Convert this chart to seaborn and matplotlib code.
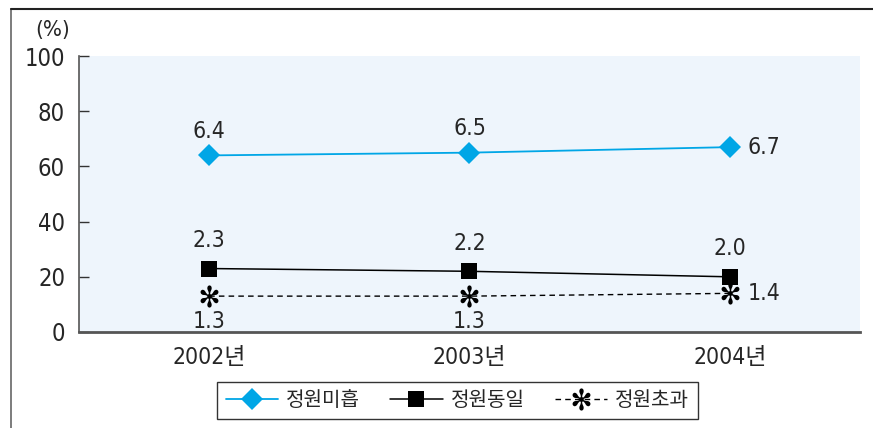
import pandas as pd
import seaborn as sns
import matplotlib.pyplot as plt

years = ["2002년", "2003년", "2004년"]
under = [64, 65, 67]      # 정원미흡
equal = [23, 22, 20]      # 정원동일
over = [13, 13, 14]       # 정원초과
under_labels = ["6.4", "6.5", "6.7"]
equal_labels = ["2.3", "2.2", "2.0"]
over_labels = ["1.3", "1.3", "1.4"]
y_ticks = [0, 20, 40, 60, 80, 100]

sns.set_theme(style="white")
plt.rcParams['font.family'] = ['DejaVu Sans', 'Noto Sans CJK KR']
plt.rcParams['font.stretch'] = 'condensed'

df = pd.DataFrame({"year": years, "x": range(len(years)),
                   "정원미흡": under, "정원동일": equal, "정원초과": over})

fig = plt.figure(figsize=(8.73, 4.28), dpi=100)
ax = fig.add_axes([0.0905, 0.2243, 0.8945, 0.6447])
ax.set_facecolor("#eef5fc")

blue = "#00a6e6"
sns.lineplot(data=df, x="x", y="정원미흡", ax=ax, color=blue, lw=1.3,
             marker="D", markersize=11, markeredgewidth=0, label="정원미흡")
sns.lineplot(data=df, x="x", y="정원동일", ax=ax, color="black", lw=1.1,
             marker="s", markersize=12, markeredgewidth=0, label="정원동일")
sns.lineplot(data=df, x="x", y="정원초과", ax=ax, color="black", lw=1.0,
             linestyle=(0, (4, 3)), marker="$✻$", markersize=16,
             markeredgewidth=0, label="정원초과")

fs = 16.5
for i, (v, t) in enumerate(zip(under, under_labels)):
    if i < 2:
        ax.annotate(t, (i, v), xytext=(0, 9), textcoords="offset points",
                    ha="center", va="bottom", fontsize=fs)
    else:
        ax.annotate(t, (i, v), xytext=(13, 0), textcoords="offset points",
                    ha="left", va="center", fontsize=fs)
for i, (v, t) in enumerate(zip(equal, equal_labels)):
    ax.annotate(t, (i, v), xytext=(0, 12), textcoords="offset points",
                ha="center", va="bottom", fontsize=fs)
for i, (v, t) in enumerate(zip(over, over_labels)):
    if i < 2:
        ax.annotate(t, (i, v), xytext=(0, -10), textcoords="offset points",
                    ha="center", va="top", fontsize=fs)
    else:
        ax.annotate(t, (i, v), xytext=(13, 0), textcoords="offset points",
                    ha="left", va="center", fontsize=fs)

ax.set_xlim(-0.5, 2.5)
ax.set_ylim(0, 100)
ax.set_xticks(range(len(years)))
ax.set_xticklabels(years)
ax.set_yticks(y_ticks)
ax.tick_params(axis="y", direction="in", length=7, width=1, color="#333333",
               left=True, labelsize=17, pad=10)
ax.tick_params(axis="x", length=0, labelsize=16.5, pad=10)
ax.set_xlabel("")
ax.set_ylabel("")
for s in ["top", "right"]:
    ax.spines[s].set_visible(False)
ax.spines["left"].set_color("#555555")
ax.spines["left"].set_linewidth(1.2)
ax.spines["bottom"].set_color("#555555")
ax.spines["bottom"].set_linewidth(2)
ax.text(-0.6, 106, "(%)", ha="center", va="bottom", fontsize=16)

ax.legend(loc="center", bbox_to_anchor=(0.524, 0.065), bbox_transform=fig.transFigure,
          ncol=3, frameon=True, fancybox=False, edgecolor="black", fontsize=14.5,
          handlelength=2.6, handletextpad=0.4, columnspacing=1.5, borderpad=0.45)
ax.get_legend().get_frame().set_linewidth(1.0)

# outer frame lines (left and top)
fig.add_artist(plt.Line2D([11 / 873, 11 / 873], [0, 1 - 9 / 428], color="#666666", lw=1.2))
fig.add_artist(plt.Line2D([11 / 873, 1], [1 - 9 / 428, 1 - 9 / 428], color="#222222", lw=1.5))

fig.savefig("out.png", dpi=100)
